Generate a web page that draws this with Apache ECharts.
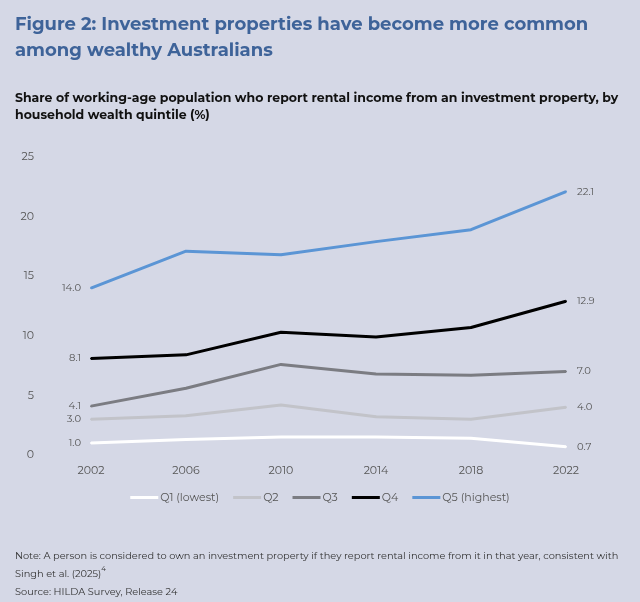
<!DOCTYPE html>
<html>
<head>
<meta charset="utf-8">
<script src="https://cdn.jsdelivr.net/npm/echarts@6/dist/echarts.min.js"></script>
<style>
  html, body { margin: 0; padding: 0; background: #d5d8e6; }
  #chart { width: 640px; height: 602px; }
</style>
</head>
<body>
<div id="chart"></div>
<script>
const years = ['2002', '2006', '2010', '2014', '2018', '2022']
const q1 = [1.0, 1.3, 1.5, 1.5, 1.4, 0.7]
const q2 = [3.0, 3.3, 4.2, 3.2, 3.0, 4.0]
const q3 = [4.1, 5.6, 7.6, 6.8, 6.7, 7.0]
const q4 = [8.1, 8.4, 10.3, 9.9, 10.7, 12.9]
const q5 = [14.0, 17.1, 16.8, 17.9, 18.9, 22.1]
const seriesNames = ['Q1 (lowest)', 'Q2', 'Q3', 'Q4', 'Q5 (highest)']
const colors = ['#ffffff', '#c2c3c9', '#7b7c82', '#000000', '#5b95d5']

const font = 'Montserrat, "Noto Sans", sans-serif'

const chart = echarts.init(document.getElementById('chart'))

// label only the first and last point of each line
function endLabels(values) {
  return values.map((v, i) => {
    if (i === 0) {
      return { value: v, label: { show: true, position: 'left', distance: 9 } }
    }
    if (i === values.length - 1) {
      return { value: v, label: { show: true, position: 'right', distance: 10 } }
    }
    return v
  })
}

const option = {
  backgroundColor: '#d5d8e6',
  animation: false,
  title: [
    {
      text: 'Figure 2: Investment properties have become more common\namong wealthy Australians',
      left: 10,
      top: 7,
      textStyle: {
        fontFamily: font,
        fontSize: 18,
        fontWeight: 'bold',
        color: '#3e6399',
        lineHeight: 26,
      },
    },
    {
      text: 'Share of working-age population who report rental income from an investment property, by\nhousehold wealth quintile (%)',
      left: 10,
      top: 85,
      textStyle: {
        fontFamily: font,
        fontSize: 12.5,
        fontWeight: 'bold',
        color: '#111111',
        lineHeight: 17,
      },
    },
    {
      text: 'Note: A person is considered to own an investment property if they report rental income from it in that year, consistent with\nSingh et al. (2025){sup|4}\nSource: HILDA Survey, Release 24',
      left: 10,
      top: 542,
      textStyle: {
        fontFamily: font,
        fontSize: 9.8,
        fontWeight: 'normal',
        color: '#333333',
        lineHeight: 18,
        rich: {
          sup: { fontSize: 7, verticalAlign: 'top', color: '#333333', padding: [0, 0, 6, 0] },
        },
      },
    },
  ],
  legend: {
    data: seriesNames,
    top: 487,
    left: 'center',
    icon: 'rect',
    itemWidth: 28,
    itemHeight: 3,
    itemGap: 14,
    textStyle: {
      fontFamily: font,
      fontSize: 11,
      color: '#555555',
      padding: [0, 0, 0, -3],
    },
  },
  grid: {
    left: 91,
    right: 74,
    top: 157,
    bottom: 147,
  },
  xAxis: {
    type: 'category',
    data: years,
    boundaryGap: false,
    axisLine: { show: false },
    axisTick: { show: false },
    axisLabel: {
      fontFamily: font,
      fontSize: 11,
      color: '#555555',
      margin: 10,
    },
  },
  yAxis: {
    type: 'value',
    min: 0,
    max: 25,
    interval: 5,
    splitLine: { show: false },
    axisLine: { show: false },
    axisTick: { show: false },
    axisLabel: {
      fontFamily: font,
      fontSize: 11,
      color: '#555555',
      margin: 57,
      align: 'right',
    },
  },
  series: [q1, q2, q3, q4, q5].map((vals, i) => ({
    name: seriesNames[i],
    type: 'line',
    data: endLabels(vals),
    symbol: 'circle',
    symbolSize: 2,
    showSymbol: true,
    itemStyle: { color: colors[i] },
    color: colors[i],
    lineStyle: { width: 3, color: colors[i] },
    label: {
      fontFamily: font,
      fontSize: 10,
      color: '#555555',
      formatter: (p) => p.value.toFixed(1),
    },
  })),
}

chart.setOption(option)

window.addEventListener('resize', () => {
  chart.resize()
})
</script>
</body>
</html>
